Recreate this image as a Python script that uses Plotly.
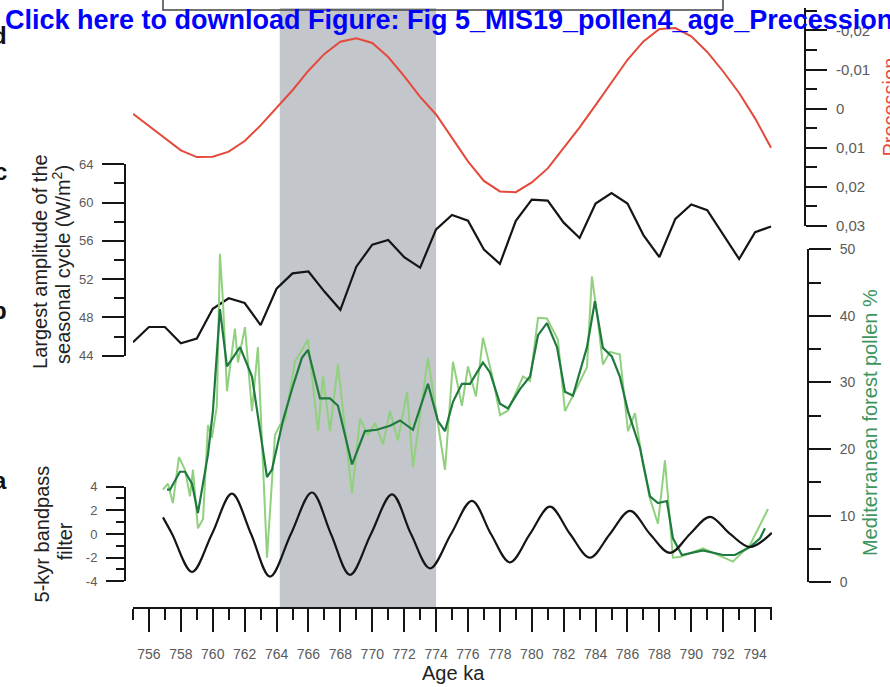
import plotly.graph_objects as go

W, H = 890, 687

# ---------------- data ----------------
age_ka = list(range(755, 796))
seasonal_amplitude = [45.4, 47.0, 47.0, 45.3, 45.8, 48.9, 50.0, 49.5, 47.2, 51.0,
                      52.6, 52.8, 50.7, 48.8, 53.3, 55.6, 56.1, 54.3, 53.2, 57.2,
                      58.7, 58.1, 55.1, 53.6, 58.1, 60.3, 60.2, 57.9, 56.3, 59.9,
                      61.0, 59.9, 56.6, 54.3, 58.3, 59.8, 59.2, 56.7, 54.1, 56.9, 57.5]
precession = [0.0013, 0.0045, 0.0075, 0.0107, 0.0124, 0.0123, 0.011, 0.0083, 0.0043, -0.0003,
              -0.0047, -0.0097, -0.014, -0.0171, -0.018, -0.0168, -0.0132, -0.0083, -0.003, 0.0015,
              0.0075, 0.0135, 0.0185, 0.0212, 0.0214, 0.0189, 0.0153, 0.0101, 0.0048, -0.0009,
              -0.0068, -0.0125, -0.0172, -0.0204, -0.0206, -0.0185, -0.0145, -0.0095, -0.004, 0.0025, 0.01]

pollen_raw_age = [756.88, 757.19, 757.50, 757.88, 758.26, 758.57, 758.76, 759.07, 759.39, 759.70,
                  759.95, 760.26, 760.45, 760.64, 760.89, 761.39, 761.58, 762.02, 762.46, 762.83,
                  763.40, 763.90, 764.21, 764.53, 765.15, 765.97, 766.60, 766.91, 767.35, 767.85,
                  768.73, 769.23, 769.73, 770.17, 770.67, 771.11, 771.61, 772.18, 772.55, 773.49,
                  774.56, 775.06, 775.62, 776.00, 776.50, 776.94, 777.57, 778.01, 778.51, 779.45,
                  779.89, 780.39, 780.95, 781.64, 782.08, 782.58, 783.46, 783.77, 784.09, 784.46,
                  784.90, 785.52, 786.03, 786.47, 786.97, 787.41, 787.91, 788.35, 788.85, 789.29,
                  790.73, 792.61, 793.68, 794.81]
pollen_raw = [13.9, 14.8, 11.9, 18.8, 16.9, 12.9, 16.9, 8.1, 9.5, 23.6,
              21.7, 26.5, 49.3, 42.2, 28.7, 38.1, 33.0, 38.3, 25.7, 35.3,
              3.7, 22.1, 23.6, 24.3, 33.1, 36.4, 22.7, 30.9, 22.7, 32.7,
              13.3, 24.6, 22.1, 23.9, 20.7, 25.7, 21.3, 28.6, 17.3, 33.7,
              16.9, 33.1, 26.5, 32.4, 27.9, 36.7, 30.5, 25.1, 25.8, 30.9,
              30.2, 39.7, 39.6, 36.4, 25.7, 28.0, 32.3, 45.9, 40.3, 32.7,
              34.6, 34.2, 22.7, 25.4, 17.7, 12.6, 8.8, 18.3, 3.7, 3.8,
              5.1, 3.1, 5.6, 11.0]

pollen_smooth_age = [757.13, 757.32, 757.94, 758.26, 758.70, 759.07, 759.70, 760.01, 760.45, 760.89,
                     761.71, 762.46, 763.40, 763.71, 764.40, 765.03, 765.59, 765.97, 766.72, 767.35,
                     767.85, 768.73, 769.54, 770.29, 771.11, 771.74, 772.55, 773.49, 774.12, 774.56,
                     775.06, 775.62, 776.13, 776.94, 777.38, 778.01, 778.51, 779.26, 779.89, 780.39,
                     780.95, 781.58, 782.08, 782.58, 783.46, 783.96, 784.46, 785.02, 785.52, 786.03,
                     786.78, 787.41, 787.91, 788.47, 788.85, 789.41, 790.73, 791.99, 792.74, 793.68,
                     794.31, 794.62]
pollen_smooth = [13.9, 13.9, 16.6, 16.6, 14.8, 10.4, 19.2, 25.7, 41.0, 32.4,
                 35.3, 30.9, 15.8, 16.9, 24.3, 29.5, 33.7, 34.9, 27.6, 27.6,
                 26.5, 17.7, 22.7, 22.9, 23.5, 24.3, 22.9, 29.8, 24.2, 22.7,
                 27.1, 29.8, 29.8, 33.0, 31.5, 26.8, 26.1, 29.0, 30.9, 37.1,
                 38.9, 35.3, 28.6, 28.0, 35.3, 42.2, 35.2, 33.9, 30.9, 25.7,
                 20.2, 12.9, 11.9, 12.2, 6.6, 4.1, 4.8, 4.1, 4.1, 5.3,
                 6.6, 8.1]

bandpass_age = [756.88, 757.45, 758.70, 759.95, 761.20, 762.40, 763.59, 764.90, 766.22, 767.41,
                768.60, 769.92, 771.24, 772.43, 773.62, 774.94, 776.25, 777.44, 778.63, 779.89,
                781.14, 782.40, 783.65, 784.90, 786.16, 787.41, 788.67, 789.92, 791.17, 792.43,
                793.68, 795.05]
bandpass = [1.4, 0.0, -3.2, 0.0, 3.4, 0.0, -3.6, 0.0, 3.5, 0.0,
            -3.45, 0.0, 3.35, 0.0, -2.9, 0.0, 2.8, 0.0, -2.4, 0.0,
            2.3, 0.0, -2.0, 0.0, 1.95, 0.0, -1.6, 0.0, 1.45, 0.0,
            -1.1, 0.1]

x_ticks = list(range(756, 795, 2))
c_ticks = [44, 48, 52, 56, 60, 64]
prec_ticks = [-0.02, -0.01, 0, 0.01, 0.02, 0.03]
prec_labels = ["-0,02", "-0,01", "0", "0,01", "0,02", "0,03"]
pollen_ticks = [0, 10, 20, 30, 40, 50]
bp_ticks = [-4, -2, 0, 2, 4]
bp_labels = ["-4", "-2", "0", "2", "4"]
mis_band = [764.2, 774.0]

# ---------------- helpers ----------------
def fx(p):
    return p / W

def fy(p):
    return 1 - p / H

FONT = "Liberation Sans, Arial, Helvetica, sans-serif"
BLACK = "#151515"
LABEL_GREY = "#5a5a5a"

def yax(size=13, **kw):
    d = dict(showgrid=False, zeroline=False, showline=True, linecolor=BLACK, linewidth=2,
             ticks="outside", tickcolor=BLACK, tickwidth=2,
             tickfont=dict(family=FONT, size=size, color=LABEL_GREY),
             anchor="free", fixedrange=True)
    d.update(kw)
    return d

fig = go.Figure()
fig.add_trace(go.Scatter(x=age_ka, y=seasonal_amplitude, yaxis="y", mode="lines",
                         line=dict(color=BLACK, width=2.2), showlegend=False))
fig.add_trace(go.Scatter(x=age_ka, y=precession, yaxis="y2", mode="lines",
                         line=dict(color="#e5493c", width=2), showlegend=False))
fig.add_trace(go.Scatter(x=pollen_raw_age, y=pollen_raw, yaxis="y3", mode="lines",
                         line=dict(color="#91d07e", width=2), showlegend=False))
fig.add_trace(go.Scatter(x=pollen_smooth_age, y=pollen_smooth, yaxis="y3", mode="lines",
                         line=dict(color="#1e7a3e", width=2.2), showlegend=False))
fig.add_trace(go.Scatter(x=bandpass_age, y=bandpass, yaxis="y4", mode="lines",
                         line=dict(color=BLACK, width=2.2, shape="spline"), showlegend=False))

annotations = []

def ann(text, xp, yp, size=20, color="#222", angle=0, bold=False, xanchor="center", yanchor="middle"):
    t = "<b>%s</b>" % text if bold else text
    annotations.append(dict(text=t, x=fx(xp), y=fy(yp), xref="paper", yref="paper",
                            showarrow=False, textangle=angle, xanchor=xanchor, yanchor=yanchor,
                            font=dict(family=FONT, size=size, color=color)))

ann("Largest amplitude of the", 40, 260, angle=-90)
ann("seasonal cycle (W/m<sup>2</sup>)", 62, 262, angle=-90)
ann("5-kyr bandpass", 42, 539, angle=-90)
ann("filter", 65, 546, angle=-90)
ann("Mediterranean forest pollen %", 870, 425, color="#3d9660", angle=-90)
ann("Precession", 890, 102, color="#e5493c", angle=-90)
ann("Age ka", 453, 681)
for lab, yy in [("c", 167), ("b", 310), ("a", 484), ("d", 28)]:
    ann(lab, 9, yy, size=24, color="#111", bold=True, xanchor="right")
ann("Click here to download Figure: Fig 5_MIS19_pollen4_age_Precession(", 3, 12,
    size=27, color="#0000ff", bold=True, xanchor="left")

fig.update_layout(
    width=W, height=H, margin=dict(l=0, r=0, t=0, b=0),
    paper_bgcolor="white", plot_bgcolor="rgba(0,0,0,0)",
    showlegend=False,
    xaxis=dict(domain=[fx(133), fx(772)], range=[755, 795.06], anchor="free", position=fy(614),
               showgrid=False, zeroline=False, showline=True, linecolor=BLACK, linewidth=2,
               ticks="outside", tickcolor=BLACK, tickwidth=2, ticklen=23,
               tickvals=x_ticks, tickfont=dict(family=FONT, size=14, color=LABEL_GREY),
               ticklabelstandoff=10,
               minor=dict(dtick=1, tick0=755, ticks="outside", ticklen=11, tickwidth=2, tickcolor=BLACK)),
    yaxis=yax(domain=[fy(356), fy(160)], range=[44, 64], position=fx(125), side="left",
              tickvals=c_ticks, ticklen=22, ticklabelstandoff=6,
              minor=dict(dtick=2, tick0=44, ticks="outside", ticklen=10, tickwidth=2, tickcolor=BLACK)),
    yaxis2=yax(size=15, domain=[fy(223), 1], range=[0.03, 0.03 - 223 / 4000], position=fx(805), side="right",
               tickvals=prec_ticks, ticktext=prec_labels, ticklen=21, ticklabelstandoff=6,
               minor=dict(dtick=0.005, tick0=0, ticks="outside", ticklen=11, tickwidth=2, tickcolor=BLACK)),
    yaxis3=yax(size=14, domain=[fy(588), fy(247)], range=[0, 50], position=fx(808), side="right",
               tickvals=pollen_ticks, ticklen=22, ticklabelstandoff=6,
               minor=dict(dtick=5, tick0=0, ticks="outside", ticklen=12, tickwidth=2, tickcolor=BLACK)),
    yaxis4=yax(domain=[fy(587), fy(490)], range=[-4, 4], position=fx(125), side="left",
               tickvals=bp_ticks, ticktext=bp_labels, ticklen=18, ticklabelstandoff=6,
               minor=dict(dtick=1, tick0=0, ticks="outside", ticklen=8, tickwidth=2, tickcolor=BLACK)),
    shapes=[
        dict(type="rect", xref="x", yref="paper", x0=mis_band[0], x1=mis_band[1],
             y0=fy(614), y1=1.0, fillcolor="#c3c6ca", line=dict(width=0), layer="below"),
        dict(type="rect", xref="paper", yref="paper", x0=fx(163), x1=fx(723), y0=fy(2), y1=1.05,
             fillcolor="rgba(0,0,0,0)", line=dict(color="#444", width=1.5), layer="above"),
    ],
    annotations=annotations,
)

fig.write_html("out.html")
